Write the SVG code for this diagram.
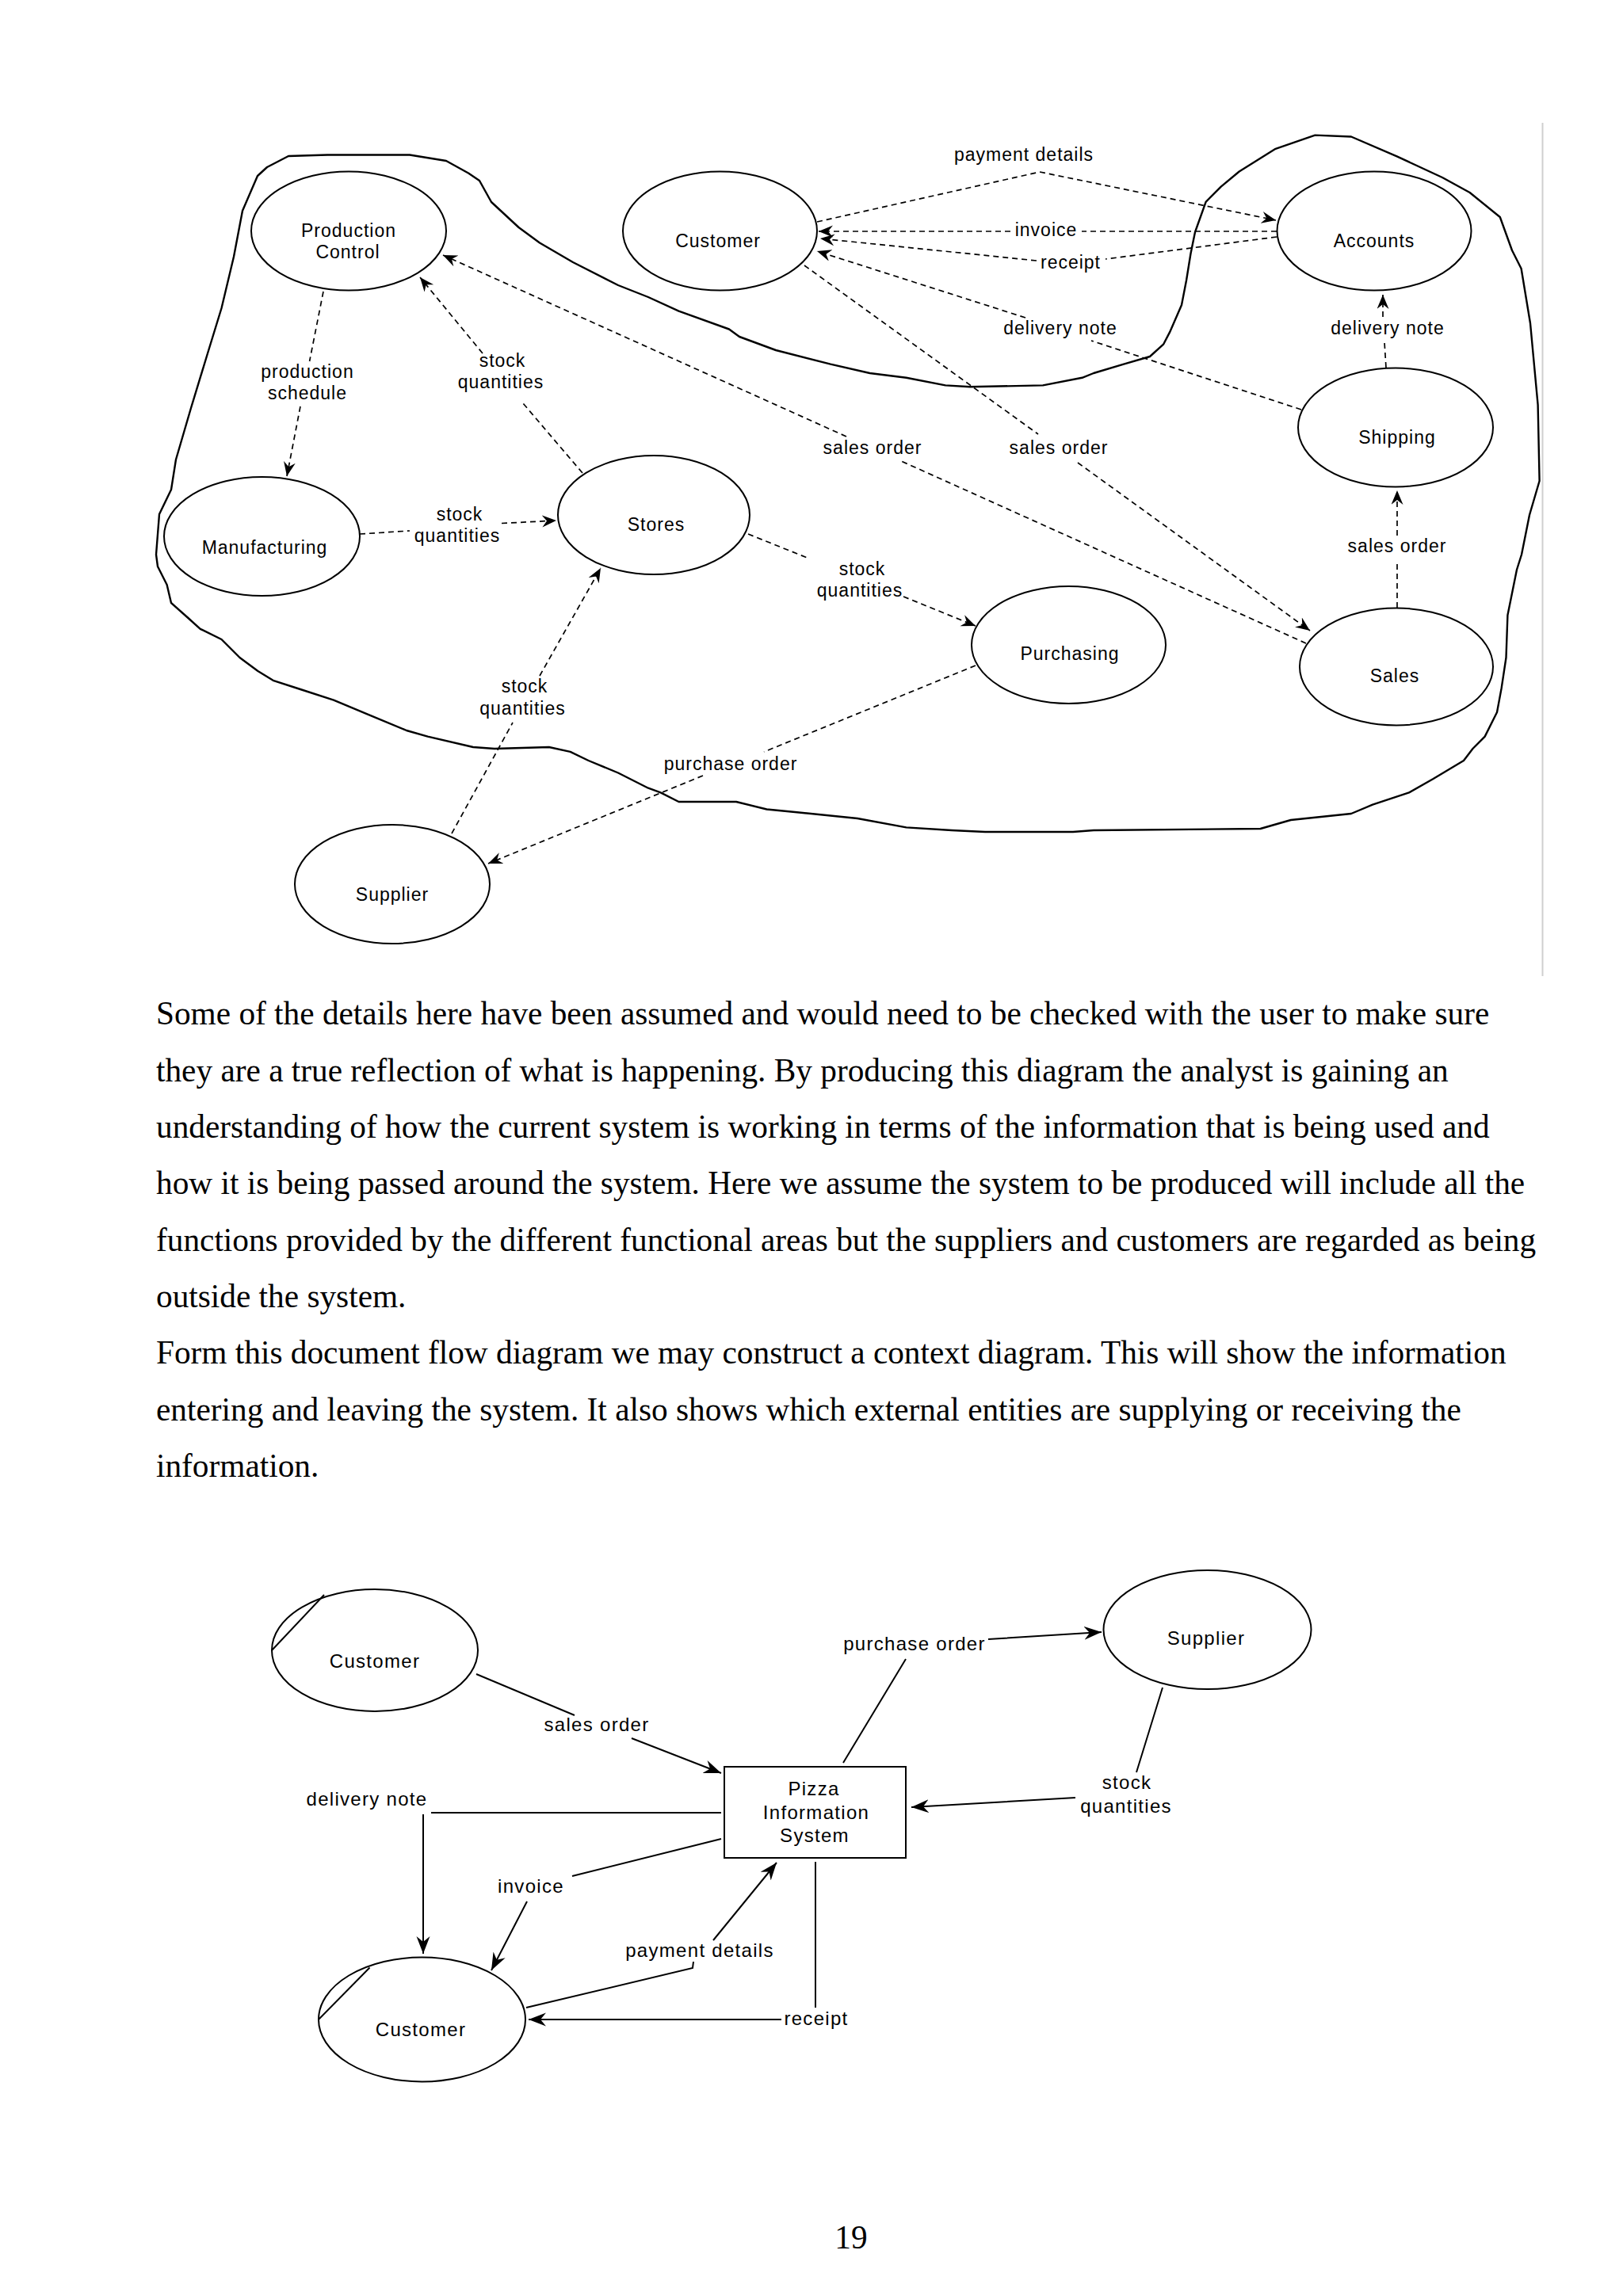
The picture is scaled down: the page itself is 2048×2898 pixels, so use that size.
<svg xmlns="http://www.w3.org/2000/svg" width="2048" height="2898" viewBox="0 0 2048 2898">
<defs>
<style>
.node{fill:none;stroke:#000;stroke-width:2}
.t{font-family:"Liberation Sans",Arial,sans-serif;font-size:23px;letter-spacing:1px;fill:#000;text-anchor:middle}
.t2{font-family:"Liberation Sans",Arial,sans-serif;font-size:24px;letter-spacing:1.3px;fill:#000;text-anchor:middle}
.dash{fill:none;stroke:#000;stroke-width:1.7;stroke-dasharray:7 5}
.solid{fill:none;stroke:#000;stroke-width:2}
.bound{fill:none;stroke:#000;stroke-width:2.4;stroke-linejoin:round}
.para{font-family:"Liberation Serif","Times New Roman",serif;font-size:41.3px;fill:#000}
</style>
<marker id="ah" markerUnits="userSpaceOnUse" markerWidth="22" markerHeight="16" refX="18" refY="7.5" orient="auto">
<path d="M0,0 L18,7.5 L0,15 L6,7.5 z" fill="#000"/>
</marker>
<marker id="ah2" markerUnits="userSpaceOnUse" markerWidth="26" markerHeight="18" refX="22" refY="8.5" orient="auto">
<path d="M0,0 L22,8.5 L0,17 L7,8.5 z" fill="#000"/>
</marker>
</defs>
<rect width="2048" height="2898" fill="#fff"/>

<!-- ===== Top diagram: document flow ===== -->
<g id="system-boundary">
<path class="bound" d="M364,197 L413,195.5 L517,195.5 L563,203 L591,218.5 L605,228 L620,255 L654.5,287 L681,306.5 L723,331 L780,360 L818,375 L856.5,392.6 L920,415.5 L933,425 L979,442 L1048,459.6 L1097.6,471 L1143.6,476.8 L1193,486.4 L1224,488.3 L1316,486.4 L1365.5,476.8 L1380,471 L1418,459.6 L1451,450 L1468,434.7 L1476,419.4 L1491,385 L1497,354 L1502.5,320 L1508,293 L1521.6,254.8 L1540.7,235.7 L1563.7,216.5 L1609.6,187.8 L1659.4,170.6 L1705,172.5 L1762.7,197.4 L1820,224 L1854.6,243 L1892.8,274 L1908,316 L1919.6,339 L1931,408 L1940.6,511 L1942.6,607 L1930,650 L1920,700 L1914,719 L1902.4,776.5 L1900.5,830 L1894.7,868.4 L1889,899 L1873.7,929.6 L1858.4,945 L1847,960 L1808.6,983 L1778,1000.4 L1732,1015.7 L1705,1027 L1628.8,1035 L1590.5,1046 L1380,1048 L1354,1050 L1243,1050 L1201,1048 L1143.6,1044.4 L1082,1033 L1005.8,1025.3 L967.5,1021.5 L929,1012 L856.5,1012 L833.6,1000.4 L818,994.7 L780,975.5 L742.6,960 L719.6,948.8 L692.8,943 L624,945 L597,943 L539.7,929.6 L513,922 L467,902.8 L421,883.7 L379,870 L344.6,858.8 L325.4,847 L302.5,830 L279.5,807 L252.7,793.8 L237.4,780 L216,761 L210.6,738 L199,715 L197,700 L201,649 L216,618 L222,580 L241,515 L262,446 L279.5,389 L295,324 L306,266 L325,222 L337,211 Z"/>
</g>
<line x1="1946.5" y1="155" x2="1946.5" y2="1232" stroke="#cfcfcf" stroke-width="2"/>

<g id="production-control">
<ellipse class="node" cx="440" cy="291.5" rx="123" ry="75"/>
<text class="t" x="440" y="299">Production</text>
<text class="t" x="439" y="325.5">Control</text>
</g>
<g id="customer-top">
<ellipse class="node" cx="908.5" cy="291.5" rx="122.5" ry="75"/>
<text class="t" x="906" y="312">Customer</text>
</g>
<g id="accounts">
<ellipse class="node" cx="1734" cy="291.5" rx="122.5" ry="75"/>
<text class="t" x="1734" y="312">Accounts</text>
</g>
<g id="shipping">
<ellipse class="node" cx="1761" cy="539.5" rx="123" ry="75"/>
<text class="t" x="1763" y="560">Shipping</text>
</g>
<g id="manufacturing">
<ellipse class="node" cx="330.5" cy="677" rx="123.5" ry="75"/>
<text class="t" x="334" y="699">Manufacturing</text>
</g>
<g id="stores">
<ellipse class="node" cx="825" cy="650" rx="121" ry="75"/>
<text class="t" x="828" y="670">Stores</text>
</g>
<g id="purchasing">
<ellipse class="node" cx="1348.5" cy="814" rx="122.5" ry="74"/>
<text class="t" x="1350" y="833">Purchasing</text>
</g>
<g id="sales">
<ellipse class="node" cx="1762" cy="841.5" rx="122" ry="74"/>
<text class="t" x="1760" y="861">Sales</text>
</g>
<g id="supplier-top">
<ellipse class="node" cx="495" cy="1116" rx="123" ry="75"/>
<text class="t" x="495" y="1137">Supplier</text>
</g>

<g id="connectors-top">
<path class="dash" marker-end="url(#ah)" d="M408,368 L390.6,456 M379,513 L362,601"/>
<text class="t" x="388" y="477">production</text>
<text class="t" x="388" y="503.5">schedule</text>

<path class="dash" marker-end="url(#ah)" d="M735,597 L660,509 M609,446 L530,350"/>
<text class="t" x="634" y="463">stock</text>
<text class="t" x="632" y="490">quantities</text>

<path class="dash" marker-end="url(#ah)" d="M454,674 L517,670 M633,660.5 L702,657"/>
<text class="t" x="580" y="656.5">stock</text>
<text class="t" x="577" y="683.5">quantities</text>

<path class="dash" marker-end="url(#ah)" d="M1648,812 L1135,581 M1068,551 L559,322"/>
<text class="t" x="1101" y="573">sales order</text>

<path class="dash" marker-end="url(#ah)" d="M1015,335 L1310,548 M1360,584 L1653,796"/>
<text class="t" x="1336" y="573">sales order</text>

<path class="dash" marker-end="url(#ah)" d="M944,674 L1021,705 M1140,753 L1231,790"/>
<text class="t" x="1088" y="725.5">stock</text>
<text class="t" x="1085" y="753">quantities</text>

<path class="dash" marker-end="url(#ah)" d="M1231,840 L964,949 M887,979 L616,1090"/>
<text class="t" x="922" y="971.5">purchase order</text>

<path class="dash" marker-end="url(#ah)" d="M570,1052 L647,912 M681,853 L758,717"/>
<text class="t" x="662" y="874">stock</text>
<text class="t" x="659.5" y="902">quantities</text>

<path class="dash" marker-end="url(#ah)" d="M1031,280 L1312,217 L1610,278"/>
<text class="t" x="1292" y="203">payment details</text>

<path class="dash" marker-end="url(#ah)" d="M1611,292 L1365,292 M1275,292 L1033,292"/>
<text class="t" x="1320" y="298">invoice</text>

<path class="dash" marker-end="url(#ah)" d="M1611,299 L1395,327 M1308,329 L1035,301"/>
<text class="t" x="1351" y="339">receipt</text>

<path class="dash" marker-end="url(#ah)" d="M1642,517 L1377,430 M1294,401 L1031,317"/>
<text class="t" x="1338" y="422">delivery note</text>

<path class="dash" marker-end="url(#ah)" d="M1749,464 L1747,432 M1745,400 L1745,372"/>
<text class="t" x="1751" y="422">delivery note</text>

<path class="dash" marker-end="url(#ah)" d="M1763,767 L1763,708 M1763,676 L1763,619"/>
<text class="t" x="1763" y="697">sales order</text>
</g>

<!-- ===== Paragraph text ===== -->
<g id="paragraph">
<text class="para" x="197" y="1293">Some of the details here have been assumed and would need to be checked with the user to make sure</text>
<text class="para" x="197" y="1364.5">they are a true reflection of what is happening. By producing this diagram the analyst is gaining an</text>
<text class="para" x="197" y="1436">understanding of how the current system is working in terms of the information that is being used and</text>
<text class="para" x="197" y="1507">how it is being passed around the system. Here we assume the system to be produced will include all the</text>
<text class="para" x="197" y="1578.5">functions provided by the different functional areas but the suppliers and customers are regarded as being</text>
<text class="para" x="197" y="1650">outside the system.</text>
<text class="para" x="197" y="1721">Form this document flow diagram we may construct a context diagram. This will show the information</text>
<text class="para" x="197" y="1792.5">entering and leaving the system. It also shows which external entities are supplying or receiving the</text>
<text class="para" x="197" y="1864">information.</text>
</g>

<!-- ===== Bottom diagram: context diagram ===== -->
<g id="customer-1">
<ellipse class="node" cx="473" cy="2083" rx="130" ry="77"/>
<line class="solid" x1="343" y1="2083" x2="409" y2="2013"/>
<text class="t2" x="473" y="2105">Customer</text>
</g>
<g id="pizza-information-system">
<rect class="node" x="914" y="2230" width="229" height="115"/>
<text class="t2" x="1027" y="2266">Pizza</text>
<text class="t2" x="1030" y="2296">Information</text>
<text class="t2" x="1028" y="2325">System</text>
</g>
<g id="supplier-bottom">
<ellipse class="node" cx="1523.5" cy="2057" rx="131" ry="75"/>
<text class="t2" x="1522" y="2076">Supplier</text>
</g>
<g id="customer-2">
<ellipse class="node" cx="532.5" cy="2549" rx="130.5" ry="78.5"/>
<line class="solid" x1="402" y1="2549" x2="466.5" y2="2483.5"/>
<text class="t2" x="531" y="2570">Customer</text>
</g>

<g id="connectors-bottom">
<path class="solid" marker-end="url(#ah2)" d="M601,2113 L725,2165 M797,2194 L910,2238"/>
<text class="t2" x="753" y="2184.5">sales order</text>

<path class="solid" marker-end="url(#ah2)" d="M910,2288 L544,2288 M534,2290 L534,2466"/>
<text class="t2" x="463" y="2279">delivery note</text>

<path class="solid" marker-end="url(#ah2)" d="M910,2321 L722,2368 M665,2400 L620,2487"/>
<text class="t2" x="670" y="2388.5">invoice</text>

<path class="solid" marker-end="url(#ah2)" d="M664,2534 L874,2484 L875,2476 M900,2449 L980,2351"/>
<text class="t2" x="883" y="2470">payment details</text>

<path class="solid" marker-end="url(#ah2)" d="M1029,2350 L1029,2534 M986,2549 L667,2549"/>
<text class="t2" x="1030" y="2556">receipt</text>

<path class="solid" marker-end="url(#ah2)" d="M1064,2225 L1143,2094 M1247,2069 L1390,2060"/>
<text class="t2" x="1154" y="2083">purchase order</text>

<path class="solid" marker-end="url(#ah2)" d="M1467,2130 L1434,2237 M1357,2269 L1150,2281"/>
<text class="t2" x="1422" y="2258">stock</text>
<text class="t2" x="1421" y="2288">quantities</text>
</g>

<text class="para" x="1074" y="2838" text-anchor="middle">19</text>
</svg>
